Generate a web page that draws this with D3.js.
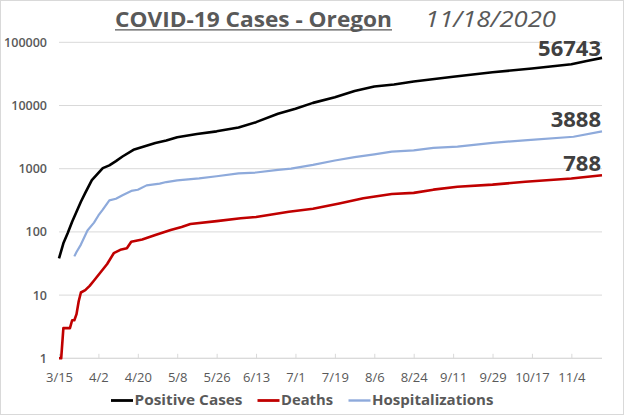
<!DOCTYPE html>
<html>
<head>
<meta charset="utf-8">
<script src="https://cdn.jsdelivr.net/npm/d3@7"></script>
<style>
  body { margin: 0; background: #fff; }
  svg { display: block; font-family: "Open Sans", sans-serif; }
</style>
</head>
<body>
<script>
// values (cumulative counts, Oregon 2020)
var caseDates = ["3/15","3/17","3/19","3/21","3/23","3/25","3/27","3/30","4/4","4/7","4/10","4/13","4/18","4/28","5/3","5/8","5/17","5/26","6/5","6/13","6/23","7/1","7/9","7/19","7/28","8/6","8/15","8/24","9/11","9/29","10/17","11/4","11/11","11/18"];
var caseValues = [38,66,96,145,208,300,415,660,1020,1130,1320,1560,1990,2560,2800,3150,3540,3900,4500,5450,7400,8900,11000,13500,17000,20000,21500,24000,28500,33500,38500,45000,50500,56743];

var deathDates = ["3/15","3/16","3/17","3/20","3/21","3/22","3/23","3/24","3/25","3/27","3/29","3/31","4/3","4/6","4/9","4/12","4/15","4/17","4/22","4/28","5/5","5/10","5/14","5/26","6/6","6/13","6/28","7/9","7/21","8/1","8/14","8/24","9/2","9/13","9/29","10/14","11/4","11/18"];
var deathValues = [1,1,3,3,4,4,5,8,11,12,14,17,23,31,46,52,55,70,76,89,107,120,133,148,164,172,209,233,282,340,398,414,466,519,560,620,700,788];

var hospDates = ["3/22","3/23","3/25","3/28","3/31","4/2","4/4","4/7","4/10","4/13","4/17","4/20","4/24","4/30","5/3","5/8","5/18","5/26","6/5","6/13","6/23","6/29","7/9","7/19","7/28","8/6","8/14","8/24","9/2","9/13","9/29","10/15","11/5","11/18"];
var hospValues = [41,48,63,105,140,182,225,316,335,380,445,465,545,580,615,655,705,760,845,870,960,1000,1150,1350,1520,1690,1860,1950,2140,2230,2560,2840,3200,3888];

var yTicks = [1,10,100,1000,10000,100000];
var seriesNames = ["Positive Cases","Deaths","Hospitalizations"];
var seriesColors = ["#000000","#c00000","#8eaadb"];

var W = 624, H = 415;
var plotLeft = 59, plotRight = 602, plotTop = 42.3, plotBottom = 358.3;

var parse = d3.utcParse("%m/%d/%Y");
function toDate(s) { return parse(s + "/2020"); }

var svg = d3.select("body").append("svg").attr("width", W).attr("height", H);

svg.append("rect").attr("x", 0.5).attr("y", 0.5).attr("width", W - 1).attr("height", H - 1)
    .attr("fill", "#fff").attr("stroke", "#d9d9d9");

var x = d3.scaleUtc().domain([toDate("3/15"), toDate("11/18")]).range([plotLeft, plotRight]);
var y = d3.scaleLog().domain([1, 100000]).range([plotBottom, plotTop]);

// gridlines + y labels
svg.selectAll("line.grid").data(yTicks).enter().append("line")
    .attr("class", "grid")
    .attr("x1", plotLeft).attr("x2", plotRight)
    .attr("y1", d => y(d)).attr("y2", d => y(d))
    .attr("stroke", "#d9d9d9").attr("stroke-width", 1);

svg.selectAll("text.ylab").data(yTicks).enter().append("text")
    .attr("class", "ylab")
    .attr("x", 47).attr("y", d => y(d) + 4.5)
    .attr("text-anchor", "end")
    .attr("font-size", "12.5px").attr("font-weight", 600)
    .attr("fill", "#595959")
    .text(d => d);

// x axis (ticks every 18 days, pointing up)
var xTicks = d3.utcDay.range(toDate("3/15"), toDate("11/18"), 18);
var xAxis = d3.axisBottom(x).tickValues(xTicks).tickSize(-4.5).tickPadding(14.5)
    .tickFormat(d3.utcFormat("%-m/%-d"));
var gx = svg.append("g").attr("transform", "translate(0," + plotBottom + ")").call(xAxis);
gx.select(".domain").attr("stroke", "#d9d9d9").attr("d", "M" + plotLeft + ",0H" + plotRight);
gx.selectAll(".tick line").attr("stroke", "#d9d9d9");
gx.selectAll(".tick text").attr("font-family", "Open Sans").attr("font-size", "13px")
    .attr("fill", "#595959");

// series lines
var series = [
    { dates: caseDates, values: caseValues, width: 2.6 },
    { dates: deathDates, values: deathValues, width: 2.6 },
    { dates: hospDates, values: hospValues, width: 2.2 }
];
var line = d3.line().x(d => x(d[0])).y(d => y(d[1]));

series.forEach((s, i) => {
    var pts = s.dates.map((d, j) => [toDate(d), s.values[j]]);
    svg.append("path").datum(pts)
        .attr("d", line)
        .attr("fill", "none")
        .attr("stroke", seriesColors[i])
        .attr("stroke-width", s.width)
        .attr("stroke-linejoin", "round");

    var last = pts[pts.length - 1];
    svg.append("text")
        .attr("x", x(last[0]) - 1)
        .attr("y", y(last[1]) - (i == 0 ? 2 : 4.5))
        .attr("text-anchor", "end")
        .attr("font-size", "22px").attr("font-weight", 700)
        .attr("fill", "#404040")
        .text(last[1]);
});

// title
svg.append("text").attr("x", 115).attr("y", 27)
    .attr("font-size", "21px").attr("font-weight", 700).attr("fill", "#595959")
    .attr("textLength", 277).attr("lengthAdjust", "spacingAndGlyphs")
    .text("COVID-19 Cases - Oregon");
svg.append("line").attr("x1", 115).attr("x2", 392).attr("y1", 29.8).attr("y2", 29.8)
    .attr("stroke", "#595959").attr("stroke-width", 1.3);
svg.append("text").attr("x", 425).attr("y", 27)
    .attr("font-size", "21px").attr("font-style", "italic").attr("fill", "#595959")
    .attr("textLength", 131).attr("lengthAdjust", "spacingAndGlyphs")
    .text("11/18/2020");

// legend
var legendX = [111, 257.5, 348.5];
var legendW = [108, 52, 121.5];
seriesNames.forEach((name, i) => {
    svg.append("line")
        .attr("x1", legendX[i]).attr("x2", legendX[i] + 22)
        .attr("y1", 400.5).attr("y2", 400.5)
        .attr("stroke", seriesColors[i]).attr("stroke-width", i == 2 ? 2.4 : 2.8);
    svg.append("text")
        .attr("x", legendX[i] + 23.5).attr("y", 404.5)
        .attr("font-size", "15px").attr("font-weight", 700).attr("fill", "#595959")
        .attr("textLength", legendW[i]).attr("lengthAdjust", "spacingAndGlyphs")
        .text(name);
});
</script>
</body>
</html>
